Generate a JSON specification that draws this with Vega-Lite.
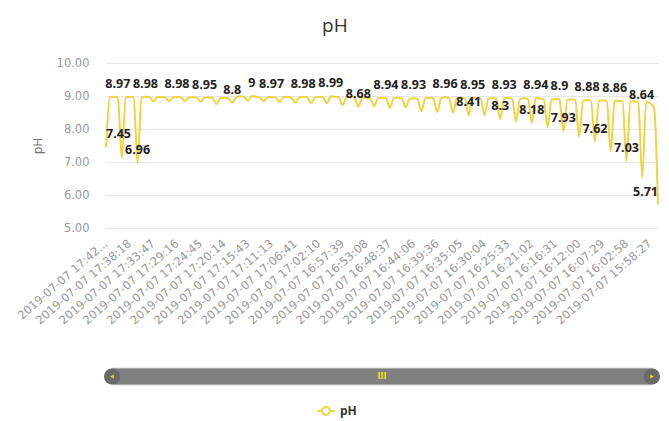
{
  "$schema": "https://vega.github.io/schema/vega-lite/v6.json",
  "autosize": {"type": "pad"},
  "padding": {"left": 15, "top": 16, "right": 0, "bottom": 0},
  "bounds": "flush",
  "spacing": 140,
  "title": {"text": "pH", "anchor": "middle", "fontSize": 19, "fontWeight": "normal", "color": "#333333", "font": "Open Sans", "offset": 21.5, "dx": -3},
  "config": {
    "view": {"stroke": null},
    "font": "Open Sans"
  },
  "datasets": {
    "ph": [
      {"time": "2019-07-07 17:42:49", "pH": 7.45, "lbl": 1},
      {"time": "2019-07-07 17:42:04", "pH": 8.96},
      {"time": "2019-07-07 17:41:19", "pH": 8.98},
      {"time": "2019-07-07 17:40:34", "pH": 8.97, "lbl": 1},
      {"time": "2019-07-07 17:39:48", "pH": 7.12},
      {"time": "2019-07-07 17:39:03", "pH": 8.95},
      {"time": "2019-07-07 17:38:18", "pH": 8.98},
      {"time": "2019-07-07 17:37:33", "pH": 8.96},
      {"time": "2019-07-07 17:36:48", "pH": 6.96, "lbl": 1},
      {"time": "2019-07-07 17:36:03", "pH": 8.94},
      {"time": "2019-07-07 17:35:17", "pH": 8.98, "lbl": 1},
      {"time": "2019-07-07 17:34:32", "pH": 8.97},
      {"time": "2019-07-07 17:33:47", "pH": 8.84},
      {"time": "2019-07-07 17:33:02", "pH": 8.96},
      {"time": "2019-07-07 17:32:17", "pH": 8.98},
      {"time": "2019-07-07 17:31:32", "pH": 8.95},
      {"time": "2019-07-07 17:30:46", "pH": 8.85},
      {"time": "2019-07-07 17:30:01", "pH": 8.96},
      {"time": "2019-07-07 17:29:16", "pH": 8.98, "lbl": 1},
      {"time": "2019-07-07 17:28:31", "pH": 8.96},
      {"time": "2019-07-07 17:27:46", "pH": 8.85},
      {"time": "2019-07-07 17:27:01", "pH": 8.95},
      {"time": "2019-07-07 17:26:15", "pH": 8.97},
      {"time": "2019-07-07 17:25:30", "pH": 8.95},
      {"time": "2019-07-07 17:24:45", "pH": 8.83},
      {"time": "2019-07-07 17:24:00", "pH": 8.95, "lbl": 1},
      {"time": "2019-07-07 17:23:15", "pH": 8.96},
      {"time": "2019-07-07 17:22:30", "pH": 8.94},
      {"time": "2019-07-07 17:21:44", "pH": 8.76},
      {"time": "2019-07-07 17:20:59", "pH": 8.93},
      {"time": "2019-07-07 17:20:14", "pH": 8.95},
      {"time": "2019-07-07 17:19:29", "pH": 8.93},
      {"time": "2019-07-07 17:18:44", "pH": 8.8, "lbl": 1},
      {"time": "2019-07-07 17:17:59", "pH": 8.96},
      {"time": "2019-07-07 17:17:13", "pH": 8.99},
      {"time": "2019-07-07 17:16:28", "pH": 8.98},
      {"time": "2019-07-07 17:15:43", "pH": 8.85},
      {"time": "2019-07-07 17:14:58", "pH": 9, "lbl": 1},
      {"time": "2019-07-07 17:14:13", "pH": 8.98},
      {"time": "2019-07-07 17:13:28", "pH": 8.95},
      {"time": "2019-07-07 17:12:43", "pH": 8.85},
      {"time": "2019-07-07 17:11:58", "pH": 8.96},
      {"time": "2019-07-07 17:11:13", "pH": 8.97, "lbl": 1},
      {"time": "2019-07-07 17:10:28", "pH": 8.95},
      {"time": "2019-07-07 17:09:42", "pH": 8.83},
      {"time": "2019-07-07 17:08:57", "pH": 8.96},
      {"time": "2019-07-07 17:08:12", "pH": 8.98},
      {"time": "2019-07-07 17:07:26", "pH": 8.95},
      {"time": "2019-07-07 17:06:41", "pH": 8.8},
      {"time": "2019-07-07 17:05:56", "pH": 8.96},
      {"time": "2019-07-07 17:05:11", "pH": 8.98, "lbl": 1},
      {"time": "2019-07-07 17:04:26", "pH": 8.96},
      {"time": "2019-07-07 17:03:40", "pH": 8.78},
      {"time": "2019-07-07 17:02:55", "pH": 8.96},
      {"time": "2019-07-07 17:02:10", "pH": 8.98},
      {"time": "2019-07-07 17:01:25", "pH": 8.96},
      {"time": "2019-07-07 17:00:40", "pH": 8.78},
      {"time": "2019-07-07 16:59:55", "pH": 8.99, "lbl": 1},
      {"time": "2019-07-07 16:59:09", "pH": 8.98},
      {"time": "2019-07-07 16:58:24", "pH": 8.96},
      {"time": "2019-07-07 16:57:39", "pH": 8.72},
      {"time": "2019-07-07 16:56:54", "pH": 8.96},
      {"time": "2019-07-07 16:56:09", "pH": 8.98},
      {"time": "2019-07-07 16:55:24", "pH": 8.95},
      {"time": "2019-07-07 16:54:38", "pH": 8.68, "lbl": 1},
      {"time": "2019-07-07 16:53:53", "pH": 8.93},
      {"time": "2019-07-07 16:53:08", "pH": 8.95},
      {"time": "2019-07-07 16:52:23", "pH": 8.93},
      {"time": "2019-07-07 16:51:38", "pH": 8.69},
      {"time": "2019-07-07 16:50:53", "pH": 8.93},
      {"time": "2019-07-07 16:50:07", "pH": 8.95},
      {"time": "2019-07-07 16:49:22", "pH": 8.94, "lbl": 1},
      {"time": "2019-07-07 16:48:37", "pH": 8.64},
      {"time": "2019-07-07 16:47:52", "pH": 8.93},
      {"time": "2019-07-07 16:47:07", "pH": 8.95},
      {"time": "2019-07-07 16:46:22", "pH": 8.93},
      {"time": "2019-07-07 16:45:36", "pH": 8.66},
      {"time": "2019-07-07 16:44:51", "pH": 8.92},
      {"time": "2019-07-07 16:44:06", "pH": 8.93, "lbl": 1},
      {"time": "2019-07-07 16:43:21", "pH": 8.92},
      {"time": "2019-07-07 16:42:36", "pH": 8.54},
      {"time": "2019-07-07 16:41:51", "pH": 8.93},
      {"time": "2019-07-07 16:41:06", "pH": 8.95},
      {"time": "2019-07-07 16:40:21", "pH": 8.93},
      {"time": "2019-07-07 16:39:36", "pH": 8.52},
      {"time": "2019-07-07 16:38:51", "pH": 8.93},
      {"time": "2019-07-07 16:38:06", "pH": 8.96, "lbl": 1},
      {"time": "2019-07-07 16:37:21", "pH": 8.94},
      {"time": "2019-07-07 16:36:35", "pH": 8.49},
      {"time": "2019-07-07 16:35:50", "pH": 8.93},
      {"time": "2019-07-07 16:35:05", "pH": 8.95},
      {"time": "2019-07-07 16:34:15", "pH": 8.93},
      {"time": "2019-07-07 16:33:25", "pH": 8.41, "lbl": 1},
      {"time": "2019-07-07 16:32:35", "pH": 8.95, "lbl": 1},
      {"time": "2019-07-07 16:31:44", "pH": 8.94},
      {"time": "2019-07-07 16:30:54", "pH": 8.92},
      {"time": "2019-07-07 16:30:04", "pH": 8.42},
      {"time": "2019-07-07 16:29:19", "pH": 8.92},
      {"time": "2019-07-07 16:28:34", "pH": 8.94},
      {"time": "2019-07-07 16:27:49", "pH": 8.92},
      {"time": "2019-07-07 16:27:03", "pH": 8.3, "lbl": 1},
      {"time": "2019-07-07 16:26:18", "pH": 8.93, "lbl": 1},
      {"time": "2019-07-07 16:25:33", "pH": 8.94},
      {"time": "2019-07-07 16:24:48", "pH": 8.91},
      {"time": "2019-07-07 16:24:03", "pH": 8.23},
      {"time": "2019-07-07 16:23:18", "pH": 8.91},
      {"time": "2019-07-07 16:22:32", "pH": 8.93},
      {"time": "2019-07-07 16:21:47", "pH": 8.91},
      {"time": "2019-07-07 16:21:02", "pH": 8.18, "lbl": 1},
      {"time": "2019-07-07 16:20:17", "pH": 8.94, "lbl": 1},
      {"time": "2019-07-07 16:19:32", "pH": 8.93},
      {"time": "2019-07-07 16:18:47", "pH": 8.9},
      {"time": "2019-07-07 16:18:01", "pH": 8.06},
      {"time": "2019-07-07 16:17:16", "pH": 8.89},
      {"time": "2019-07-07 16:16:31", "pH": 8.91},
      {"time": "2019-07-07 16:15:46", "pH": 8.9, "lbl": 1},
      {"time": "2019-07-07 16:15:01", "pH": 7.93, "lbl": 1},
      {"time": "2019-07-07 16:14:16", "pH": 8.88},
      {"time": "2019-07-07 16:13:30", "pH": 8.9},
      {"time": "2019-07-07 16:12:45", "pH": 8.88},
      {"time": "2019-07-07 16:12:00", "pH": 7.78},
      {"time": "2019-07-07 16:11:15", "pH": 8.86},
      {"time": "2019-07-07 16:10:30", "pH": 8.88, "lbl": 1},
      {"time": "2019-07-07 16:09:45", "pH": 8.86},
      {"time": "2019-07-07 16:08:59", "pH": 7.62, "lbl": 1},
      {"time": "2019-07-07 16:08:14", "pH": 8.85},
      {"time": "2019-07-07 16:07:29", "pH": 8.87},
      {"time": "2019-07-07 16:06:44", "pH": 8.85},
      {"time": "2019-07-07 16:05:59", "pH": 7.33},
      {"time": "2019-07-07 16:05:14", "pH": 8.86, "lbl": 1},
      {"time": "2019-07-07 16:04:28", "pH": 8.85},
      {"time": "2019-07-07 16:03:43", "pH": 8.83},
      {"time": "2019-07-07 16:02:58", "pH": 7.03, "lbl": 1},
      {"time": "2019-07-07 16:02:13", "pH": 8.82},
      {"time": "2019-07-07 16:01:28", "pH": 8.84},
      {"time": "2019-07-07 16:00:43", "pH": 8.8},
      {"time": "2019-07-07 15:59:57", "pH": 6.54},
      {"time": "2019-07-07 15:59:12", "pH": 8.82},
      {"time": "2019-07-07 15:58:27", "pH": 8.78},
      {"time": "2019-07-07 15:57:42", "pH": 8.64, "lbl": 1},
      {"time": "2019-07-07 15:56:57", "pH": 5.71, "lbl": 1}
    ],
    "zoom": [{"start": 0, "end": 1}]
  },
  "vconcat": [
    {
      "width": 552,
      "height": 165,
      "data": {"name": "ph"},
      "encoding": {
        "x": {
          "field": "time", "type": "ordinal", "sort": null,
          "scale": {"type": "point", "padding": 0},
          "axis": {
            "title": null,
            "values": ["2019-07-07 17:42:49", "2019-07-07 17:38:18", "2019-07-07 17:33:47", "2019-07-07 17:29:16", "2019-07-07 17:24:45", "2019-07-07 17:20:14", "2019-07-07 17:15:43", "2019-07-07 17:11:13", "2019-07-07 17:06:41", "2019-07-07 17:02:10", "2019-07-07 16:57:39", "2019-07-07 16:53:08", "2019-07-07 16:48:37", "2019-07-07 16:44:06", "2019-07-07 16:39:36", "2019-07-07 16:35:05", "2019-07-07 16:30:04", "2019-07-07 16:25:33", "2019-07-07 16:21:02", "2019-07-07 16:16:31", "2019-07-07 16:12:00", "2019-07-07 16:07:29", "2019-07-07 16:02:58", "2019-07-07 15:58:27"],
            "labelExpr": "datum.value == '2019-07-07 17:42:49' ? '2019-07-07 17:42...' : datum.value",
            "labelAngle": -41,
            "labelAlign": "right",
            "labelBaseline": "middle",
            "labelPadding": 14,
            "labelFont": "DejaVu Sans",
            "labelFontSize": 11.5,
            "labelColor": "#999999",
            "labelOverlap": false,
            "labelBound": false,
            "labelLimit": 300,
            "domain": false,
            "ticks": false,
            "grid": false
          }
        },
        "y": {
          "field": "pH", "type": "quantitative",
          "scale": {"domain": [5, 10], "nice": false, "zero": false},
          "axis": {
            "title": "pH",
            "values": [5, 6, 7, 8, 9, 10],
            "format": ".2f",
            "labelFont": "DejaVu Sans",
            "labelFontSize": 11.5,
            "labelColor": "#999999",
            "labelPadding": 17,
            "titleFont": "DejaVu Sans",
            "titleFontSize": 12,
            "titleFontWeight": "normal",
            "titleColor": "#777777",
            "titlePadding": 12,
            "domain": false,
            "ticks": false,
            "gridColor": "#e6e6e6",
            "gridWidth": 1
          }
        }
      },
      "layer": [
        {
          "mark": {"type": "line", "interpolate": "monotone", "strokeWidth": 2, "strokeJoin": "round"},
          "encoding": {
            "color": {
              "datum": "pH",
              "scale": {"range": ["#f1d33f"]},
              "legend": {
                "title": null,
                "orient": "none",
                "legendX": 210,
                "legendY": 338,
                "symbolType": "M -1 0 H -0.45 A 0.45 0.45 0 1 1 0.45 0 A 0.45 0.45 0 1 1 -0.45 0 M 0.45 0 H 1",
                "symbolSize": 300,
                "symbolStrokeWidth": 2,
                "symbolFillColor": "#ffffff",
                "symbolStrokeColor": "#f1d33f",
                "labelFont": "Open Sans",
                "labelFontSize": 12,
                "labelFontWeight": "bold",
                "labelColor": "#333333"
              }
            }
          }
        },
        {
          "transform": [{"filter": "datum.lbl == 1 && datum.time != '2019-07-07 17:42:49' && datum.time != '2019-07-07 15:57:42' && datum.time != '2019-07-07 15:56:57'"}],
          "mark": {"type": "text", "dy": -13, "baseline": "middle", "align": "center", "fontWeight": "bold", "fontSize": 12.5, "font": "Open Sans", "color": "#222222"},
          "encoding": {"text": {"field": "pH", "type": "quantitative", "format": ""}}
        },
        {
          "transform": [{"filter": "datum.time == '2019-07-07 17:42:49'"}],
          "mark": {"type": "text", "dy": -13, "baseline": "middle", "align": "left", "fontWeight": "bold", "fontSize": 12.5, "font": "Open Sans", "color": "#222222"},
          "encoding": {"text": {"field": "pH", "type": "quantitative", "format": ""}}
        },
        {
          "transform": [{"filter": "datum.time == '2019-07-07 15:57:42' || datum.time == '2019-07-07 15:56:57'"}],
          "mark": {"type": "text", "dy": -13, "baseline": "middle", "align": "right", "fontWeight": "bold", "fontSize": 12.5, "font": "Open Sans", "color": "#222222"},
          "encoding": {"text": {"field": "pH", "type": "quantitative", "format": ""}}
        }
      ]
    },
    {
      "width": 552,
      "height": 17,
      "data": {"name": "zoom"},
      "layer": [
        {
          "mark": {"type": "rect", "cornerRadius": 8.5, "fill": "#808080", "stroke": "#d6d6d6", "strokeWidth": 1},
          "encoding": {
            "x": {"field": "start", "type": "quantitative", "scale": {"domain": [0, 1], "nice": false, "zero": false}, "axis": null},
            "x2": {"field": "end"}
          }
        },
        {
          "mark": {"type": "point", "filled": true, "size": 260, "color": "#6a6a6a", "opacity": 1, "xOffset": 6},
          "encoding": {"x": {"field": "start", "type": "quantitative", "axis": null}}
        },
        {
          "mark": {"type": "point", "filled": true, "size": 260, "color": "#6a6a6a", "opacity": 1, "xOffset": -6},
          "encoding": {"x": {"field": "end", "type": "quantitative", "axis": null}}
        },
        {
          "mark": {"type": "point", "shape": "triangle-left", "filled": true, "size": 18, "color": "#e8e020", "opacity": 1, "xOffset": 6},
          "encoding": {"x": {"field": "start", "type": "quantitative", "axis": null}}
        },
        {
          "mark": {"type": "point", "shape": "triangle-right", "filled": true, "size": 18, "color": "#e8e020", "opacity": 1, "xOffset": -6},
          "encoding": {"x": {"field": "end", "type": "quantitative", "axis": null}}
        },
        {
          "mark": {"type": "text", "text": "III", "fontSize": 8, "fontWeight": "bold", "font": "DejaVu Sans", "color": "#e8e020", "baseline": "middle", "align": "center"},
          "encoding": {"x": {"datum": 0.5, "type": "quantitative", "axis": null}}
        }
      ]
    }
  ]
}
